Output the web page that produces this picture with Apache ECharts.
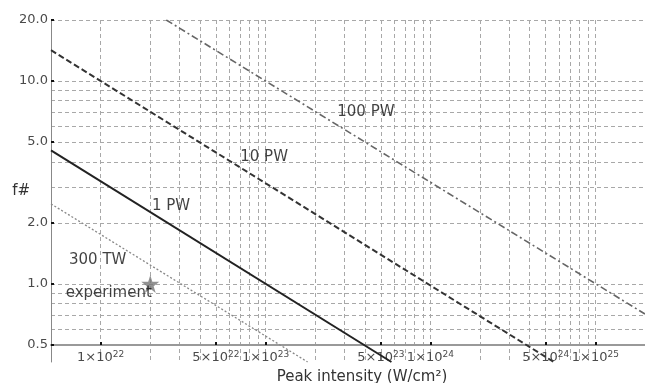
<!DOCTYPE html>
<html><head><meta charset="utf-8">
<script src="https://cdn.jsdelivr.net/npm/echarts@6/dist/echarts.min.js"></script>
<style>html,body{margin:0;padding:0;background:#fff}#c{width:645px;height:383px}</style>
</head><body><div id="c"></div>
<script>
// Axis ticks / labels
const xTickValues = [1e22, 5e22, 1e23, 5e23, 1e24, 5e24, 1e25];
const yTickValues = [0.5, 1, 2, 5, 10, 20];
const xGridMultiples = [1, 2, 3, 4, 5, 6, 7, 8, 9];
const xGridDecades = [1e22, 1e23, 1e24];
const xGridValues = [];
xGridDecades.forEach(d => xGridMultiples.forEach(m => xGridValues.push(m * d)));
xGridValues.push(1e25, 2e25);
const yGridValues = [0.5, 0.6, 0.7, 0.8, 0.9, 1, 2, 3, 4, 5, 6, 7, 8, 9, 10, 20];

// Series (endpoints of straight lines in log-log space)
const line300TW = [[5e21, 2.48], [1.8e23, 0.412]];
const line1PW = [[5e21, 4.55], [5.8e23, 0.412]];
const line10PW = [[5e21, 14.2], [5.6e24, 0.412]];
const line100PW = [[2.5e22, 20], [2e25, 0.71]];
const experimentPoint = [[2e22, 1.0]];

// Annotations
const annotationText = ['100 PW', '10 PW', '1 PW', '300 TW', 'experiment'];
const annotationX = [4.06e23, 9.8e22, 2.67e22, 9.6e21, 1.12e22];
const annotationY = [7.06, 4.23, 2.42, 1.31, 0.90];

const FONT = 'DejaVu Sans';
const gridDash = { color: '#a8a8a8', width: 1, type: [4, 3] };

function sciLabel(v) {
  const e = Math.floor(Math.log10(v) + 1e-9);
  const m = Math.round(v / Math.pow(10, e));
  return m + '×10{sup|' + e + '}';
}

const chart = echarts.init(document.getElementById('c'), null, { renderer: 'canvas' });
chart.setOption({
  animation: false,
  backgroundColor: '#fff',
  textStyle: { fontFamily: FONT },
  grid: { left: 51, right: 0, top: 20, bottom: 21, containLabel: false, outerBoundsMode: 'none' },
  xAxis: [{
    type: 'log', logBase: 10, min: 5e21, max: 2e25, position: 'bottom', offset: -17,
    name: 'Peak intensity (W/cm²)', nameLocation: 'middle', nameGap: 21,
    nameTextStyle: { fontFamily: FONT, fontSize: 15, color: '#333', padding: [0, 0, 0, 28] },
    axisLine: { show: true, lineStyle: { color: '#999', width: 2 } },
    axisTick: { show: false, customValues: xGridValues },
    minorTick: { show: false }, minorSplitLine: { show: false },
    splitLine: { show: true, lineStyle: gridDash },
    axisLabel: {
      customValues: xTickValues, formatter: sciLabel, margin: 5,
      color: '#4a4a4a', fontFamily: FONT, fontSize: 13,
      rich: { sup: { fontSize: 9, verticalAlign: 'top', padding: [0, 0, 7, 0], color: '#4a4a4a', fontFamily: FONT } }
    }
  }, {
    type: 'log', logBase: 10, min: 5e21, max: 2e25, position: 'bottom', offset: -17,
    axisLine: { show: false },
    axisTick: { show: true, inside: true, length: 3, customValues: xTickValues, lineStyle: { color: '#111', width: 2 } },
    axisLabel: { show: false }, splitLine: { show: false }
  }],
  yAxis: [{
    type: 'log', logBase: 10, min: 0.412, max: 20, position: 'left',
    name: 'f#', nameLocation: 'middle', nameRotate: 0, nameGap: 21, nameMoveOverlap: false,
    nameTextStyle: { fontFamily: FONT, fontSize: 15, color: '#333', padding: [0, 0, 16, 0] },
    axisLine: { show: true, lineStyle: { color: '#888', width: 1 } },
    axisTick: { show: false, customValues: yGridValues },
    minorTick: { show: false }, minorSplitLine: { show: false },
    splitLine: { show: true, lineStyle: gridDash },
    axisLabel: {
      customValues: yTickValues, formatter: v => v.toFixed(1), margin: 3,
      color: '#4a4a4a', fontFamily: FONT, fontSize: 13
    }
  }, {
    type: 'log', logBase: 10, min: 0.412, max: 20, position: 'left',
    axisLine: { show: false },
    axisTick: { show: true, inside: true, length: 3, customValues: yTickValues, lineStyle: { color: '#111', width: 2 } },
    axisLabel: { show: false }, splitLine: { show: false }
  }],
  series: [
    { type: 'line', name: '300 TW', data: line300TW, showSymbol: false, clip: true,
      lineStyle: { color: '#888', width: 1.3, type: [2, 2] }, z: 3 },
    { type: 'line', name: '1 PW', data: line1PW, showSymbol: false, clip: true,
      lineStyle: { color: '#222', width: 2 }, z: 3 },
    { type: 'line', name: '10 PW', data: line10PW, showSymbol: false, clip: true,
      lineStyle: { color: '#333', width: 2, type: [6, 3] }, z: 3 },
    { type: 'line', name: '100 PW', data: line100PW, showSymbol: false, clip: true,
      lineStyle: { color: '#666', width: 1.6, type: [7, 3, 2, 3] }, z: 3 },
    { type: 'scatter', name: 'experiment', data: experimentPoint, symbolSize: 18,
      symbol: 'path://M50,0 L61,35 L98,35 L68,57 L79,91 L50,70 L21,91 L32,57 L2,35 L39,35 Z',
      itemStyle: { color: '#777' }, z: 4 },
    { type: 'scatter', name: 'labels', symbolSize: 0, silent: true, z: 5,
      data: annotationText.map((t, i) => ({ value: [annotationX[i], annotationY[i]], name: t })),
      label: { show: true, position: 'inside', formatter: p => p.name,
        fontFamily: FONT, fontSize: 15, color: '#111' } }
  ]
});
</script></body></html>
